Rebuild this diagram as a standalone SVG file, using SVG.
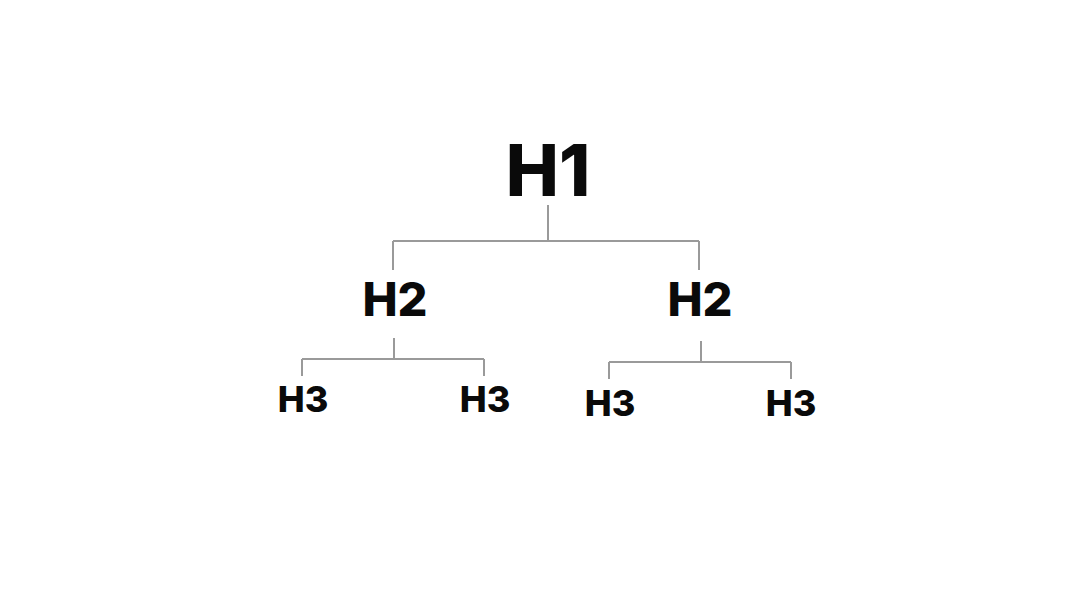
<svg xmlns="http://www.w3.org/2000/svg" width="1080" height="600" viewBox="0 0 1080 600">
<style>
text{font-family:Inter,"Liberation Sans",Arial,sans-serif;font-weight:800;fill:#0a0a0a;text-anchor:middle}
.h1{font-size:71px}
.h2{font-size:47px}
.h3{font-size:36px}
.c{stroke:#9a9a9a;stroke-width:2;fill:none}
</style>
<rect width="1080" height="600" fill="#fff"/>
<g id="connectors" class="c">
<path d="M548 205V241M393 241H699M393 241V270M699 241V270"/>
<path d="M394 338V359M302 359H484M302 359V376M484 359V376"/>
<path d="M701 341V362M609 362H791M609 362V379M791 362V379"/>
</g>
<g id="h1"><text class="h1" x="548" y="196">H1</text></g>
<g id="h2a"><text class="h2" x="395" y="316">H2</text></g>
<g id="h2b"><text class="h2" x="700" y="316">H2</text></g>
<g id="h3a"><text class="h3" x="303" y="412">H3</text></g>
<g id="h3b"><text class="h3" x="485" y="412">H3</text></g>
<g id="h3c"><text class="h3" x="610" y="416">H3</text></g>
<g id="h3d"><text class="h3" x="791" y="416">H3</text></g>
</svg>
